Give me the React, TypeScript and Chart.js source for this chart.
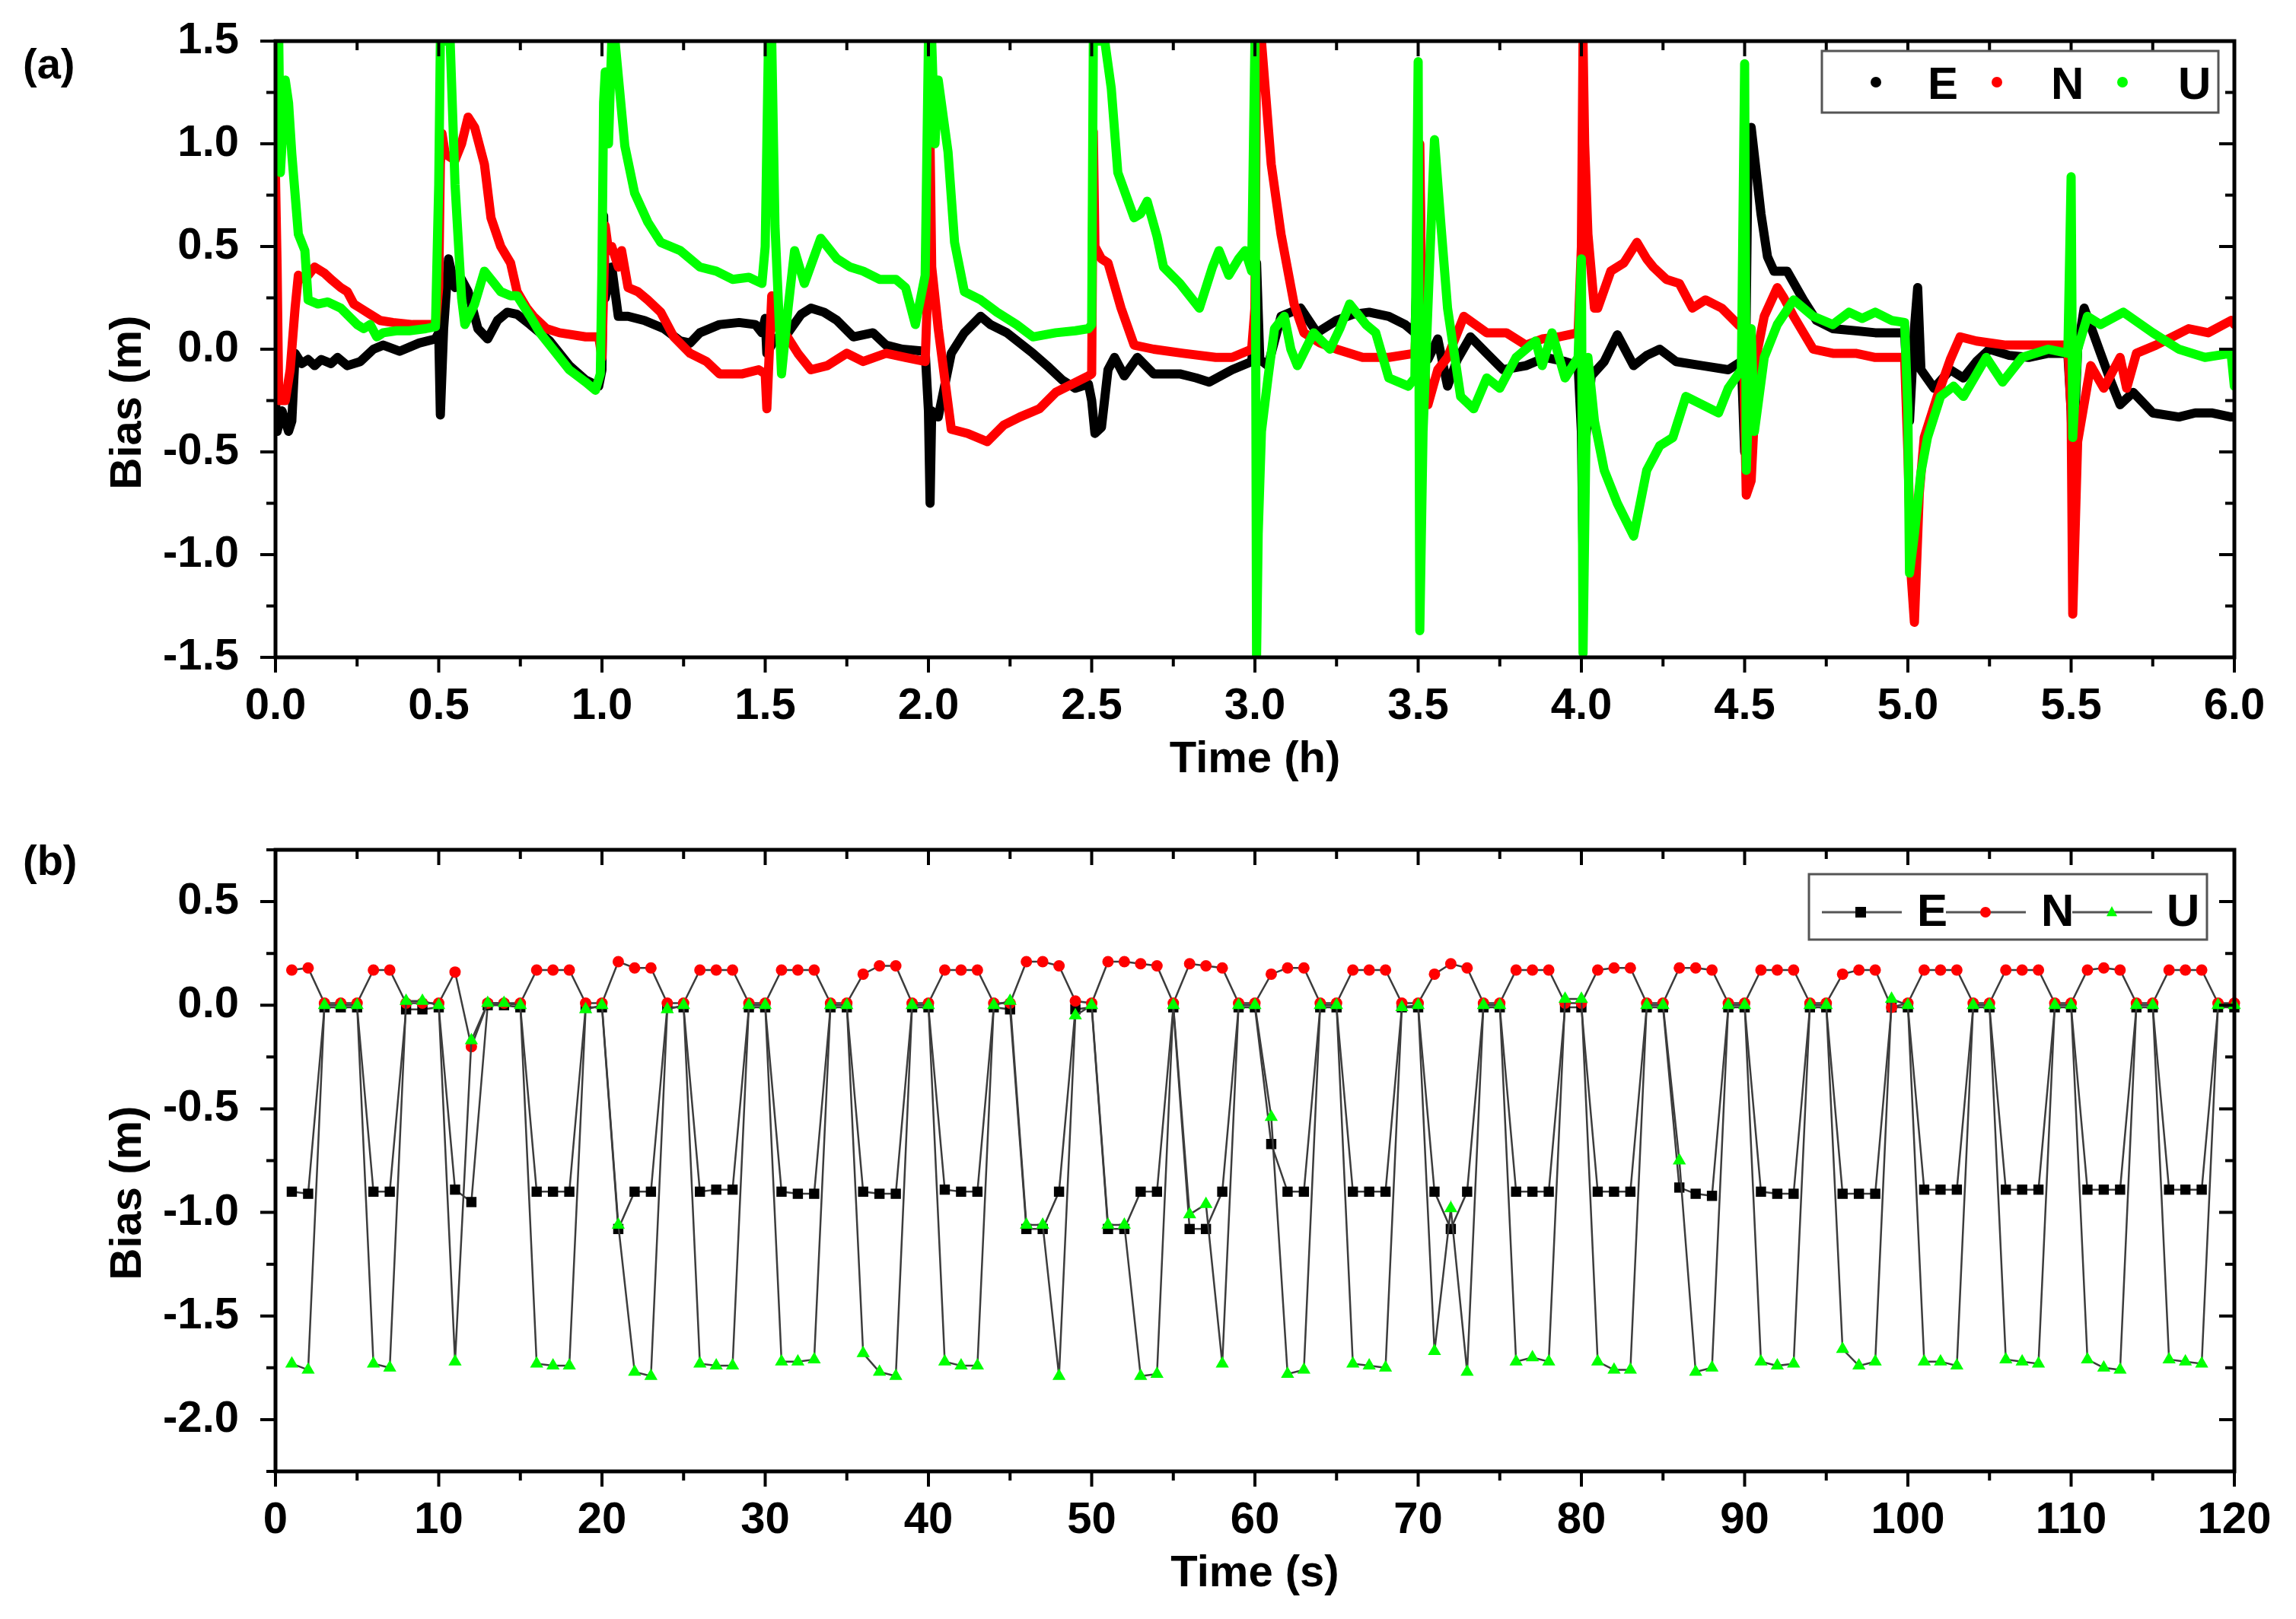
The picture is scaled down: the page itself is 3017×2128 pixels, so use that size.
import React, { useEffect, useRef } from 'react';
import { Chart, registerables } from 'chart.js';

Chart.register(...registerables);

const FONT = "'Liberation Sans', Arial, sans-serif";

// ---------- Panel (a): bias vs time (h), [time, bias] ----------
const EAST_A: [number, number][] = [
  [0.00, -0.25], [0.005, -0.40], [0.02, -0.30], [0.04, -0.40], [0.05, -0.35], [0.06, -0.02], [0.08, -0.07], [0.10, -0.05],
  [0.12, -0.08], [0.14, -0.05], [0.17, -0.07], [0.19, -0.04], [0.22, -0.08], [0.26, -0.06], [0.30, 0.00], [0.33, 0.02],
  [0.38, -0.01], [0.44, 0.03], [0.49, 0.05], [0.50, 0.08], [0.505, -0.32], [0.515, 0.10], [0.53, 0.44], [0.55, 0.30],
  [0.57, 0.34], [0.59, 0.28], [0.62, 0.10], [0.65, 0.05], [0.68, 0.14], [0.71, 0.18], [0.74, 0.17], [0.78, 0.12],
  [0.84, 0.04], [0.90, -0.08], [0.95, -0.15], [0.99, -0.18], [1.00, -0.10], [1.005, 0.65], [1.01, 0.25], [1.03, 0.40],
  [1.05, 0.16], [1.08, 0.16], [1.13, 0.14], [1.19, 0.10], [1.24, 0.04], [1.27, 0.03], [1.30, 0.08], [1.36, 0.12],
  [1.42, 0.13], [1.47, 0.12], [1.49, 0.08], [1.50, 0.15], [1.505, -0.02], [1.53, 0.05], [1.57, 0.08], [1.61, 0.17],
  [1.64, 0.20], [1.68, 0.18], [1.72, 0.14], [1.77, 0.06], [1.80, 0.07], [1.83, 0.08], [1.87, 0.02], [1.92, 0.00],
  [1.99, -0.01], [2.00, -0.30], [2.005, -0.75], [2.01, -0.30], [2.03, -0.33], [2.07, -0.02], [2.11, 0.08], [2.16, 0.16],
  [2.19, 0.12], [2.24, 0.08], [2.28, 0.03], [2.32, -0.02], [2.37, -0.09], [2.41, -0.15], [2.45, -0.19], [2.49, -0.17],
  [2.50, -0.25], [2.51, -0.41], [2.53, -0.38], [2.55, -0.10], [2.57, -0.04], [2.60, -0.13], [2.64, -0.04], [2.69, -0.12],
  [2.77, -0.12], [2.82, -0.14], [2.86, -0.16], [2.93, -0.10], [2.99, -0.06], [3.00, 0.10], [3.005, 0.42], [3.015, -0.05],
  [3.04, -0.08], [3.08, 0.16], [3.14, 0.20], [3.19, 0.08], [3.25, 0.14], [3.30, 0.17], [3.35, 0.18], [3.41, 0.16],
  [3.46, 0.12], [3.49, 0.08], [3.50, 0.50], [3.505, 0.88], [3.51, 0.20], [3.53, -0.05], [3.56, 0.05], [3.59, -0.18],
  [3.62, -0.05], [3.66, 0.06], [3.71, -0.02], [3.76, -0.10], [3.83, -0.08], [3.89, -0.04], [3.95, -0.06], [3.99, -0.08],
  [4.00, -0.40], [4.005, -0.99], [4.01, -0.50], [4.03, -0.13], [4.07, -0.06], [4.11, 0.07], [4.16, -0.08], [4.20, -0.03],
  [4.24, 0.00], [4.29, -0.06], [4.37, -0.08], [4.45, -0.10], [4.49, -0.06], [4.50, -0.50], [4.51, 0.90], [4.52, 1.08],
  [4.55, 0.66], [4.57, 0.45], [4.59, 0.38], [4.63, 0.38], [4.68, 0.24], [4.72, 0.14], [4.77, 0.10], [4.84, 0.09],
  [4.90, 0.08], [4.99, 0.08], [5.005, -0.35], [5.02, 0.10], [5.03, 0.30], [5.04, -0.10], [5.08, -0.19], [5.13, -0.10],
  [5.17, -0.14], [5.21, -0.06], [5.25, 0.00], [5.31, -0.03], [5.37, -0.04], [5.43, -0.02], [5.49, -0.02], [5.50, -0.30],
  [5.505, -0.57], [5.52, 0.00], [5.54, 0.20], [5.59, -0.02], [5.62, -0.15], [5.65, -0.27], [5.69, -0.21], [5.75, -0.31],
  [5.83, -0.33], [5.88, -0.31], [5.93, -0.31], [5.99, -0.33], [6.00, -0.33],
];

const NORTH_A: [number, number][] = [
  [0.00, 0.84], [0.005, 0.40], [0.01, -0.25], [0.03, -0.25], [0.045, -0.10], [0.06, 0.20], [0.07, 0.36], [0.09, 0.34],
  [0.12, 0.40], [0.15, 0.37], [0.17, 0.34], [0.20, 0.30], [0.22, 0.28], [0.24, 0.22], [0.26, 0.20], [0.29, 0.17],
  [0.32, 0.14], [0.36, 0.13], [0.42, 0.12], [0.49, 0.12], [0.50, 0.30], [0.505, 0.90], [0.51, 1.05], [0.52, 0.95],
  [0.55, 0.92], [0.57, 1.00], [0.59, 1.13], [0.61, 1.08], [0.64, 0.90], [0.66, 0.64], [0.69, 0.50], [0.72, 0.42],
  [0.74, 0.28], [0.77, 0.20], [0.79, 0.16], [0.83, 0.10], [0.87, 0.08], [0.95, 0.06], [0.99, 0.06], [1.00, -0.04],
  [1.01, 0.60], [1.02, 0.48], [1.03, 0.50], [1.05, 0.40], [1.06, 0.48], [1.08, 0.30], [1.11, 0.28], [1.14, 0.24],
  [1.18, 0.18], [1.22, 0.06], [1.27, -0.02], [1.32, -0.06], [1.36, -0.12], [1.43, -0.12], [1.48, -0.10], [1.50, -0.12],
  [1.505, -0.29], [1.52, 0.26], [1.54, 0.10], [1.56, 0.08], [1.60, -0.02], [1.64, -0.10], [1.69, -0.08], [1.75, -0.02],
  [1.80, -0.06], [1.87, -0.02], [1.93, -0.04], [1.99, -0.06], [2.00, 0.40], [2.005, 1.00], [2.01, 0.40], [2.03, 0.10],
  [2.07, -0.39], [2.12, -0.41], [2.18, -0.45], [2.23, -0.37], [2.28, -0.33], [2.34, -0.29], [2.39, -0.21], [2.44, -0.17],
  [2.49, -0.13], [2.50, -0.12], [2.505, 1.06], [2.51, 0.50], [2.53, 0.44], [2.55, 0.42], [2.59, 0.20], [2.63, 0.02],
  [2.69, 0.00], [2.78, -0.02], [2.88, -0.04], [2.93, -0.04], [2.99, 0.00], [3.00, 0.20], [3.005, 1.50], [3.02, 1.50],
  [3.05, 0.90], [3.08, 0.56], [3.12, 0.22], [3.15, 0.08], [3.20, 0.03], [3.25, 0.00], [3.33, -0.04], [3.41, -0.04],
  [3.49, -0.02], [3.50, 0.30], [3.505, 1.00], [3.51, 0.30], [3.52, -0.10], [3.53, -0.27], [3.56, -0.10], [3.59, -0.04],
  [3.64, 0.16], [3.71, 0.08], [3.77, 0.08], [3.83, 0.02], [3.88, 0.05], [3.93, 0.06], [3.99, 0.08], [4.00, 0.50],
  [4.005, 1.50], [4.01, 1.00], [4.02, 0.56], [4.04, 0.20], [4.05, 0.20], [4.09, 0.38], [4.13, 0.42], [4.17, 0.52],
  [4.20, 0.44], [4.22, 0.40], [4.26, 0.34], [4.30, 0.32], [4.34, 0.20], [4.38, 0.24], [4.43, 0.20], [4.48, 0.12],
  [4.495, 0.10], [4.50, -0.30], [4.505, -0.71], [4.52, -0.64], [4.54, 0.00], [4.56, 0.16], [4.60, 0.30], [4.62, 0.25],
  [4.65, 0.16], [4.71, 0.00], [4.77, -0.02], [4.84, -0.02], [4.90, -0.04], [4.99, -0.04], [5.00, -0.50], [5.01, -1.10],
  [5.02, -1.33], [5.035, -0.70], [5.05, -0.43], [5.09, -0.23], [5.13, -0.05], [5.16, 0.06], [5.21, 0.04], [5.30, 0.02],
  [5.40, 0.02], [5.49, 0.02], [5.50, -0.30], [5.505, -1.29], [5.52, -0.45], [5.56, -0.08], [5.60, -0.19], [5.65, -0.04],
  [5.67, -0.19], [5.70, -0.02], [5.76, 0.02], [5.81, 0.06], [5.86, 0.10], [5.92, 0.08], [5.99, 0.14], [6.00, 0.12],
];

const UP_A: [number, number][] = [
  [0.00, 1.50], [0.01, 1.50], [0.015, 0.86], [0.02, 1.00], [0.03, 1.31], [0.04, 1.20], [0.05, 0.95], [0.07, 0.56],
  [0.09, 0.48], [0.10, 0.24], [0.13, 0.22], [0.16, 0.23], [0.20, 0.20], [0.25, 0.12], [0.27, 0.10], [0.29, 0.12],
  [0.31, 0.06], [0.33, 0.08], [0.37, 0.09], [0.41, 0.09], [0.46, 0.10], [0.49, 0.11], [0.50, 0.80], [0.505, 1.50],
  [0.535, 1.50], [0.55, 0.80], [0.57, 0.25], [0.58, 0.12], [0.61, 0.22], [0.64, 0.38], [0.67, 0.32], [0.69, 0.28],
  [0.72, 0.26], [0.74, 0.26], [0.78, 0.16], [0.81, 0.08], [0.85, 0.00], [0.90, -0.10], [0.95, -0.16], [0.98, -0.20],
  [0.995, -0.12], [1.00, 0.40], [1.005, 1.20], [1.01, 1.35], [1.02, 1.00], [1.03, 1.50], [1.04, 1.50], [1.07, 0.99],
  [1.10, 0.76], [1.14, 0.62], [1.18, 0.52], [1.24, 0.48], [1.30, 0.40], [1.35, 0.38], [1.40, 0.34], [1.45, 0.35],
  [1.49, 0.32], [1.50, 0.50], [1.51, 1.50], [1.52, 1.50], [1.53, 0.60], [1.55, -0.12], [1.57, 0.20], [1.59, 0.48],
  [1.62, 0.32], [1.67, 0.54], [1.72, 0.44], [1.76, 0.40], [1.80, 0.38], [1.85, 0.34], [1.90, 0.34], [1.93, 0.30],
  [1.96, 0.12], [1.99, 0.36], [2.00, 1.50], [2.01, 1.50], [2.02, 1.00], [2.03, 1.31], [2.06, 0.96], [2.08, 0.52],
  [2.11, 0.28], [2.16, 0.24], [2.21, 0.18], [2.27, 0.12], [2.32, 0.06], [2.39, 0.08], [2.45, 0.09], [2.49, 0.10],
  [2.50, 0.12], [2.505, 1.50], [2.54, 1.50], [2.56, 1.27], [2.58, 0.86], [2.63, 0.64], [2.65, 0.66], [2.67, 0.72],
  [2.70, 0.55], [2.72, 0.40], [2.77, 0.32], [2.80, 0.26], [2.83, 0.20], [2.85, 0.30], [2.87, 0.40], [2.89, 0.48],
  [2.92, 0.36], [2.95, 0.44], [2.97, 0.48], [2.99, 0.38], [3.00, 1.50], [3.005, -1.50], [3.01, -0.90], [3.02, -0.40],
  [3.04, -0.14], [3.06, 0.10], [3.09, 0.16], [3.11, 0.00], [3.13, -0.08], [3.18, 0.08], [3.23, 0.00], [3.26, 0.10],
  [3.29, 0.22], [3.34, 0.12], [3.37, 0.08], [3.41, -0.14], [3.47, -0.18], [3.49, -0.14], [3.50, 1.40], [3.505, -1.37],
  [3.515, -0.40], [3.55, 1.02], [3.57, 0.60], [3.59, 0.20], [3.63, -0.23], [3.67, -0.29], [3.71, -0.14], [3.75, -0.19],
  [3.80, -0.04], [3.86, 0.04], [3.88, -0.08], [3.91, 0.08], [3.95, -0.14], [3.99, -0.04], [4.00, 0.44], [4.005, -1.48],
  [4.015, -0.30], [4.02, -0.04], [4.04, -0.35], [4.07, -0.59], [4.11, -0.75], [4.16, -0.91], [4.20, -0.59], [4.24, -0.47],
  [4.28, -0.43], [4.32, -0.23], [4.37, -0.27], [4.42, -0.31], [4.45, -0.19], [4.49, -0.10], [4.50, 1.39], [4.505, -0.59],
  [4.52, 0.10], [4.53, -0.40], [4.56, -0.04], [4.60, 0.12], [4.65, 0.24], [4.71, 0.16], [4.77, 0.12], [4.82, 0.18],
  [4.86, 0.15], [4.90, 0.18], [4.95, 0.14], [4.99, 0.13], [5.00, -0.30], [5.005, -1.09], [5.02, -0.90], [5.04, -0.60],
  [5.06, -0.43], [5.10, -0.23], [5.14, -0.18], [5.17, -0.23], [5.24, -0.04], [5.29, -0.16], [5.35, -0.04], [5.43, 0.00],
  [5.49, -0.02], [5.50, 0.84], [5.505, -0.43], [5.52, 0.00], [5.55, 0.16], [5.59, 0.12], [5.66, 0.18], [5.75, 0.08],
  [5.83, 0.00], [5.91, -0.04], [5.99, -0.02], [6.00, -0.18],
];

// ---------- Panel (b): bias vs time (s), one epoch per second ----------
const SECONDS_B: number[] = Array.from({ length: 120 }, (_, i) => i + 1);

const EAST_B: number[] = [
  -0.90, -0.91, -0.01, -0.01, -0.01, -0.90, -0.90, -0.02, -0.02, -0.01,
  -0.89, -0.95, 0.00, 0.00, -0.01, -0.90, -0.90, -0.90, -0.01, -0.01,
  -1.08, -0.90, -0.90, -0.01, -0.01, -0.90, -0.89, -0.89, -0.01, -0.01,
  -0.90, -0.91, -0.91, -0.01, -0.01, -0.90, -0.91, -0.91, -0.01, -0.01,
  -0.89, -0.90, -0.90, -0.01, -0.02, -1.08, -1.08, -0.90, -0.02, -0.01,
  -1.08, -1.08, -0.90, -0.90, -0.01, -1.08, -1.08, -0.90, -0.01, -0.01,
  -0.67, -0.90, -0.90, -0.01, -0.01, -0.90, -0.90, -0.90, -0.01, -0.01,
  -0.90, -1.08, -0.90, -0.01, -0.01, -0.90, -0.90, -0.90, -0.01, -0.01,
  -0.90, -0.90, -0.90, -0.01, -0.01, -0.88, -0.91, -0.92, -0.01, -0.01,
  -0.90, -0.91, -0.91, -0.01, -0.01, -0.91, -0.91, -0.91, -0.01, -0.01,
  -0.89, -0.89, -0.89, -0.01, -0.01, -0.89, -0.89, -0.89, -0.01, -0.01,
  -0.89, -0.89, -0.89, -0.01, -0.01, -0.89, -0.89, -0.89, -0.01, -0.01,
];

const NORTH_B: number[] = [
  0.17, 0.18, 0.01, 0.01, 0.01, 0.17, 0.17, 0.01, 0.01, 0.01,
  0.16, -0.20, 0.01, 0.01, 0.01, 0.17, 0.17, 0.17, 0.01, 0.01,
  0.21, 0.18, 0.18, 0.01, 0.01, 0.17, 0.17, 0.17, 0.01, 0.01,
  0.17, 0.17, 0.17, 0.01, 0.01, 0.15, 0.19, 0.19, 0.01, 0.01,
  0.17, 0.17, 0.17, 0.01, 0.01, 0.21, 0.21, 0.19, 0.02, 0.01,
  0.21, 0.21, 0.20, 0.19, 0.01, 0.20, 0.19, 0.18, 0.01, 0.01,
  0.15, 0.18, 0.18, 0.01, 0.01, 0.17, 0.17, 0.17, 0.01, 0.01,
  0.15, 0.20, 0.18, 0.01, 0.01, 0.17, 0.17, 0.17, 0.01, 0.01,
  0.17, 0.18, 0.18, 0.01, 0.01, 0.18, 0.18, 0.17, 0.01, 0.01,
  0.17, 0.17, 0.17, 0.01, 0.01, 0.15, 0.17, 0.17, -0.01, 0.01,
  0.17, 0.17, 0.17, 0.01, 0.01, 0.17, 0.17, 0.17, 0.01, 0.01,
  0.17, 0.18, 0.17, 0.01, 0.01, 0.17, 0.17, 0.17, 0.01, 0.01,
];

const UP_B: number[] = [
  -1.73, -1.76, 0.00, 0.00, 0.00, -1.73, -1.75, 0.02, 0.02, 0.00,
  -1.72, -0.17, 0.01, 0.01, 0.00, -1.73, -1.74, -1.74, -0.02, 0.00,
  -1.06, -1.77, -1.79, -0.02, 0.00, -1.73, -1.74, -1.74, 0.00, 0.00,
  -1.72, -1.72, -1.71, 0.00, 0.00, -1.68, -1.77, -1.79, 0.00, 0.00,
  -1.72, -1.74, -1.74, 0.00, 0.02, -1.06, -1.06, -1.79, -0.05, 0.00,
  -1.06, -1.06, -1.79, -1.78, 0.00, -1.01, -0.96, -1.73, 0.00, 0.00,
  -0.54, -1.78, -1.76, 0.00, 0.00, -1.73, -1.74, -1.75, -0.01, 0.00,
  -1.67, -0.98, -1.77, 0.00, 0.00, -1.72, -1.70, -1.72, 0.03, 0.03,
  -1.72, -1.76, -1.76, 0.00, 0.00, -0.75, -1.77, -1.75, 0.00, 0.00,
  -1.72, -1.74, -1.73, 0.00, 0.00, -1.66, -1.74, -1.72, 0.03, 0.00,
  -1.72, -1.72, -1.74, 0.00, 0.00, -1.71, -1.72, -1.73, 0.00, 0.00,
  -1.71, -1.75, -1.76, 0.00, 0.00, -1.71, -1.72, -1.73, 0.00, 0.00,
];

const SERIES_NAMES = ['E', 'N', 'U'];
const SERIES_COLORS = ['#000000', '#ff0000', '#00ff00'];
const MARKERS_B = ['rect', 'circle', 'triangle'];

// ---------- helpers ----------
const isMult = (v: number, step: number) => Math.abs(Math.round(v * 1000) % Math.round(step * 1000)) === 0;

function drawMarker(ctx: CanvasRenderingContext2D, style: string, x: number, y: number, r: number, color: string) {
  ctx.fillStyle = color;
  ctx.beginPath();
  if (style === 'rect') {
    ctx.rect(x - r, y - r, 2 * r, 2 * r);
  } else if (style === 'triangle') {
    ctx.moveTo(x, y - r * 1.15);
    ctx.lineTo(x + r, y + r * 0.75);
    ctx.lineTo(x - r, y + r * 0.75);
    ctx.closePath();
  } else {
    ctx.arc(x, y, r, 0, Math.PI * 2);
  }
  ctx.fill();
}

type LegendCfg = {
  box: [number, number, number, number];
  baseline: number;
  markerY: number;
  markerX: number[];
  textX: number[];
  lines?: [number, number][];
  markers: string[];
  markerR: number;
};

type DecorCfg = {
  panel: string; panelX: number; panelY: number;
  xTitle: string; xTitleY: number;
  yTitle: string; yTitleX: number; yTitleY: number;
  xMajor: number; yMajor: number;
  legend: LegendCfg;
};

function makeDecor(cfg: DecorCfg) {
  return {
    id: 'decor',
    afterDatasetsDraw(chart: any) {
      const { ctx, chartArea } = chart;
      const { left, right, top, bottom } = chartArea;
      const xs = chart.scales.x;
      const ys = chart.scales.y;
      ctx.save();
      ctx.strokeStyle = '#000';
      ctx.lineCap = 'butt';
      ctx.lineWidth = 5;
      ctx.strokeRect(left, top, right - left, bottom - top);
      ctx.lineWidth = 4;
      ctx.beginPath();
      xs.ticks.forEach((t: any) => {
        const px = xs.getPixelForValue(t.value);
        const len = isMult(t.value, cfg.xMajor) ? 20 : 12;
        ctx.moveTo(px, bottom); ctx.lineTo(px, bottom + len);
        ctx.moveTo(px, top); ctx.lineTo(px, top + len);
      });
      ys.ticks.forEach((t: any) => {
        const py = ys.getPixelForValue(t.value);
        const len = isMult(t.value, cfg.yMajor) ? 20 : 12;
        ctx.moveTo(left, py); ctx.lineTo(left - len, py);
        ctx.moveTo(right, py); ctx.lineTo(right - len, py);
      });
      ctx.stroke();
      ctx.restore();
    },
    afterDraw(chart: any) {
      const { ctx, chartArea } = chart;
      ctx.save();
      ctx.fillStyle = '#000';
      ctx.font = `bold 58px ${FONT}`;
      ctx.textAlign = 'center';
      ctx.textBaseline = 'middle';
      ctx.fillText(cfg.xTitle, (chartArea.left + chartArea.right) / 2, cfg.xTitleY);
      ctx.save();
      ctx.translate(cfg.yTitleX, cfg.yTitleY);
      ctx.rotate(-Math.PI / 2);
      ctx.fillText(cfg.yTitle, 0, 0);
      ctx.restore();
      ctx.textAlign = 'left';
      ctx.font = `bold 56px ${FONT}`;
      ctx.fillText(cfg.panel, cfg.panelX, cfg.panelY);

      // legend
      const lg = cfg.legend;
      const [bx0, by0, bx1, by1] = lg.box;
      ctx.fillStyle = '#fff';
      ctx.fillRect(bx0, by0, bx1 - bx0, by1 - by0);
      ctx.strokeStyle = '#555';
      ctx.lineWidth = 3;
      ctx.strokeRect(bx0, by0, bx1 - bx0, by1 - by0);
      chart.data.datasets.forEach((ds: any, i: number) => {
        if (lg.lines) {
          ctx.strokeStyle = '#555';
          ctx.lineWidth = 3;
          ctx.beginPath();
          ctx.moveTo(lg.lines[i][0], lg.markerY);
          ctx.lineTo(lg.lines[i][1], lg.markerY);
          ctx.stroke();
        }
        drawMarker(ctx, lg.markers[i], lg.markerX[i], lg.markerY, lg.markerR, ds.pointBackgroundColor || ds.borderColor);
        ctx.fillStyle = '#000';
        ctx.font = `bold 60px ${FONT}`;
        ctx.textAlign = 'left';
        ctx.textBaseline = 'alphabetic';
        ctx.fillText(ds.label, lg.textX[i], lg.baseline);
      });
      ctx.restore();
    },
  };
}

const tickFont = { family: FONT, size: 58, weight: 'bold' as const };

function axisX(min: number, max: number, step: number, major: number, fmt: (v: number) => string, height: number) {
  return {
    type: 'linear' as const,
    min, max,
    grid: { display: false, drawTicks: false },
    border: { display: false },
    ticks: {
      stepSize: step,
      autoSkip: false,
      maxRotation: 0,
      minRotation: 0,
      padding: 30,
      color: '#000',
      font: tickFont,
      callback: (v: any) => (isMult(Number(v), major) ? fmt(Number(v)) : ''),
    },
    afterFit: (s: any) => { s.height = height; s.paddingLeft = 0; s.paddingRight = 0; },
  };
}

function axisY(min: number, max: number, step: number, major: number, width: number) {
  return {
    type: 'linear' as const,
    min, max,
    grid: { display: false, drawTicks: false },
    border: { display: false },
    ticks: {
      stepSize: step,
      autoSkip: false,
      padding: 48,
      color: '#000',
      font: tickFont,
      callback: (v: any) => (isMult(Number(v), major) ? Number(v).toFixed(1) : ''),
    },
    afterFit: (s: any) => { s.width = width; s.paddingTop = 0; s.paddingBottom = 0; },
  };
}

function buildA() {
  const sets = [EAST_A, NORTH_A, UP_A];
  return {
    type: 'line' as const,
    data: {
      datasets: sets.map((arr, i) => ({
        label: SERIES_NAMES[i],
        data: arr.map(([x, y]) => ({ x, y })),
        borderColor: SERIES_COLORS[i],
        pointBackgroundColor: SERIES_COLORS[i],
        borderWidth: 12,
        borderJoinStyle: 'round' as const,
        borderCapStyle: 'round' as const,
        pointRadius: 0,
        tension: 0,
        order: 3 - i,
        clip: 0,
      })),
    },
    options: {
      responsive: false,
      animation: false as const,
      events: [],
      layout: { padding: { left: 0, right: 81, top: 54, bottom: 0 } },
      plugins: { legend: { display: false }, tooltip: { enabled: false } },
      scales: {
        x: axisX(0, 6, 0.25, 0.5, (v) => v.toFixed(1), 196),
        y: axisY(-1.5, 1.5, 0.25, 0.5, 362),
      },
    },
    plugins: [makeDecor({
      panel: '(a)', panelX: 30, panelY: 88,
      xTitle: 'Time (h)', xTitleY: 999,
      yTitle: 'Bias (m)', yTitleX: 169, yTitleY: 529,
      xMajor: 0.5, yMajor: 0.5,
      legend: {
        box: [2394, 67, 2915, 148], baseline: 130, markerY: 108,
        markerX: [2465, 2624, 2789], textX: [2533, 2695, 2862],
        markers: ['circle', 'circle', 'circle'], markerR: 7,
      },
    })],
  };
}

function buildB() {
  const sets = [EAST_B, NORTH_B, UP_B];
  return {
    type: 'line' as const,
    data: {
      datasets: sets.map((arr, i) => ({
        label: SERIES_NAMES[i],
        data: arr.map((y, k) => ({ x: SECONDS_B[k], y })),
        borderColor: '#3c3c3c',
        borderWidth: 2.5,
        pointStyle: MARKERS_B[i],
        pointRadius: i === 0 ? 9.5 : i === 1 ? 7.5 : 10,
        pointBackgroundColor: SERIES_COLORS[i],
        pointBorderColor: SERIES_COLORS[i],
        pointBorderWidth: 0,
        tension: 0,
        order: 3 - i,
        clip: false as const,
      })),
    },
    options: {
      responsive: false,
      animation: false as const,
      events: [],
      layout: { padding: { left: 0, right: 81, top: 57, bottom: 0 } },
      plugins: { legend: { display: false }, tooltip: { enabled: false } },
      scales: {
        x: axisX(0, 120, 5, 10, (v) => String(Math.round(v)), 194),
        y: axisY(-2.25, 0.75, 0.25, 0.5, 362),
      },
    },
    plugins: [makeDecor({
      panel: '(b)', panelX: 30, panelY: 75,
      xTitle: 'Time (s)', xTitleY: 1009,
      yTitle: 'Bias (m)', yTitleX: 169, yTitleY: 508,
      xMajor: 10, yMajor: 0.5,
      legend: {
        box: [2377, 89, 2900, 175], baseline: 157, markerY: 139,
        markerX: [2445, 2609, 2775], textX: [2519, 2682, 2847],
        lines: [[2394, 2499], [2557, 2662], [2723, 2828]],
        markers: ['rect', 'circle', 'triangle'], markerR: 7,
      },
    })],
  };
}

export default function App() {
  const refA = useRef<HTMLCanvasElement>(null);
  const refB = useRef<HTMLCanvasElement>(null);
  useEffect(() => {
    const a = new Chart(refA.current as HTMLCanvasElement, buildA() as any);
    const b = new Chart(refB.current as HTMLCanvasElement, buildB() as any);
    return () => { a.destroy(); b.destroy(); };
  }, []);
  return (
    <div style={{ position: 'absolute', left: 0, top: 0, width: 3017, height: 2128, background: '#fff' }}>
      <canvas ref={refA} width={3017} height={1060}
        style={{ position: 'absolute', left: 0, top: 0, width: 3017, height: 1060 }} />
      <canvas ref={refB} width={3017} height={1068}
        style={{ position: 'absolute', left: 0, top: 1060, width: 3017, height: 1068 }} />
    </div>
  );
}
